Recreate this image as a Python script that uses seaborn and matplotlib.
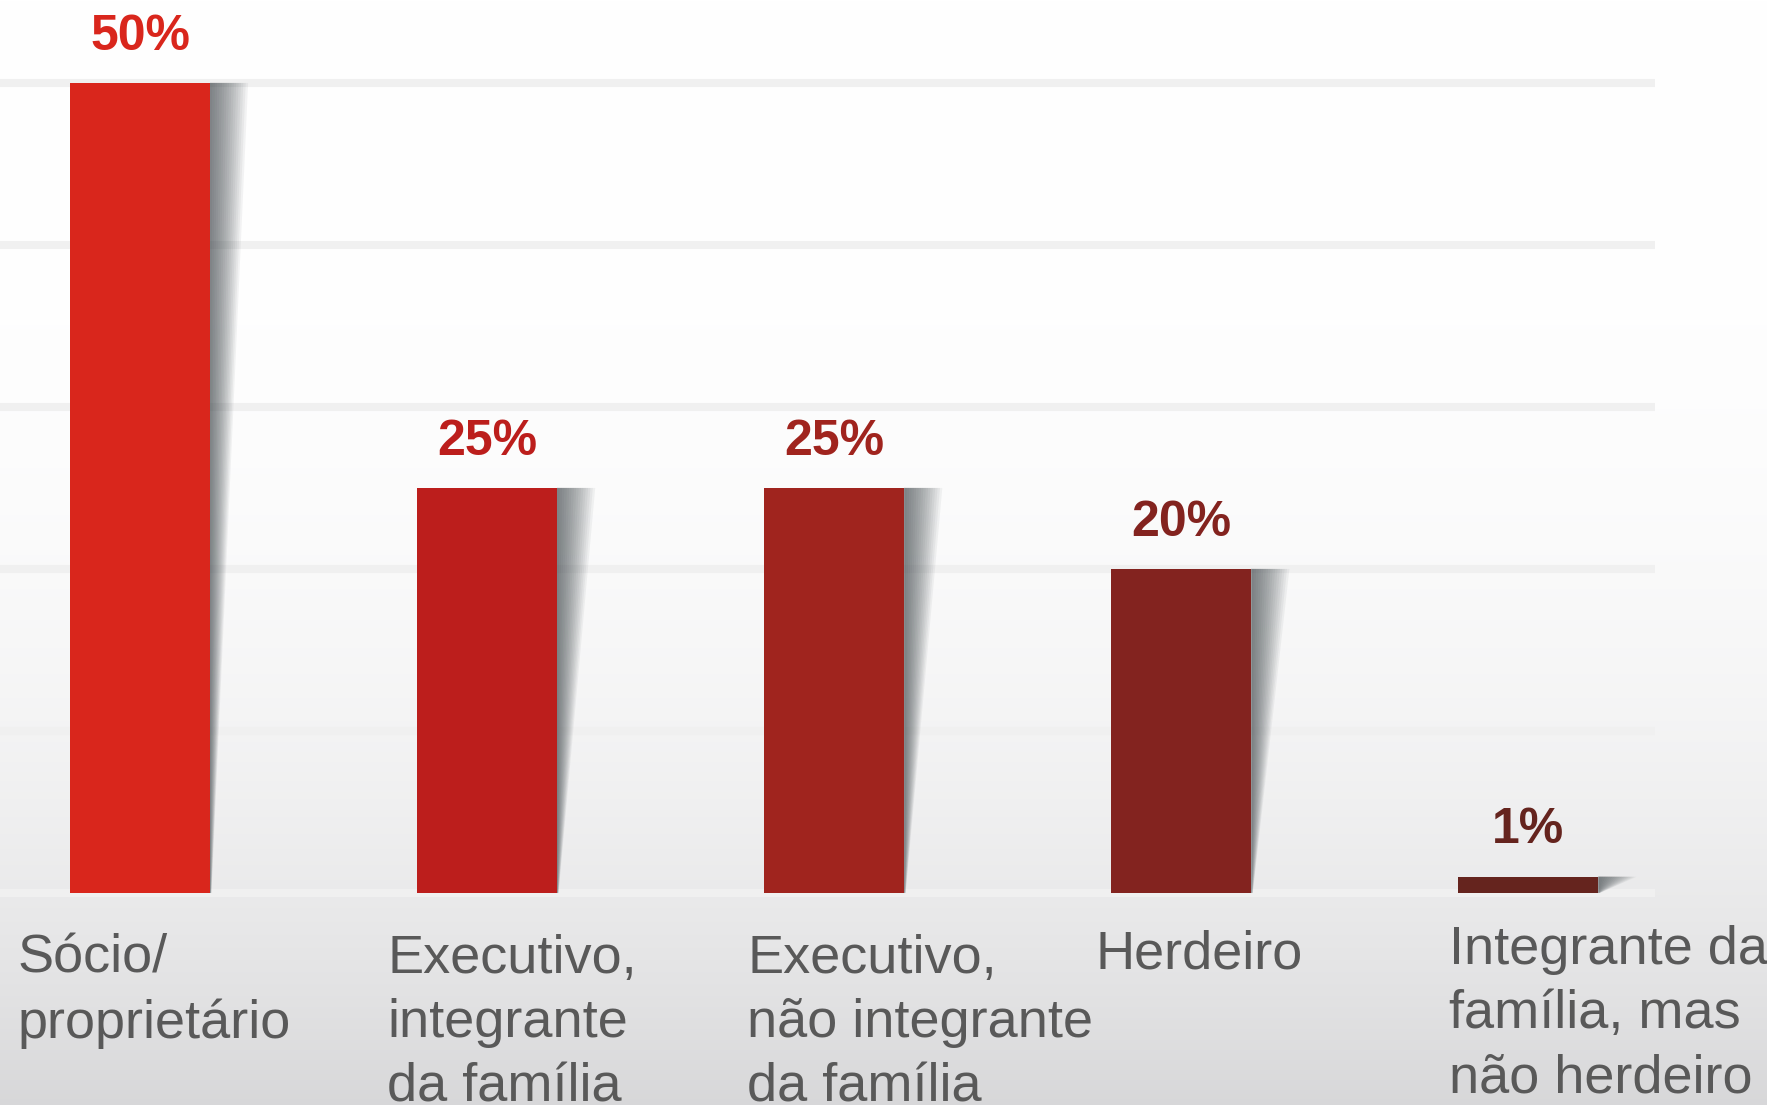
import numpy as np
import matplotlib
matplotlib.use("Agg")
import matplotlib.pyplot as plt
from matplotlib.patches import Polygon
import seaborn as sns

# --- data -------------------------------------------------------------
categories = [
    "Sócio/\nproprietário",
    "Executivo,\nintegrante\nda família",
    "Executivo,\nnão integrante\nda família",
    "Herdeiro",
    "Integrante da\nfamília, mas\nnão herdeiro",
]
values = [50, 25, 25, 20, 1]
value_labels = ["50%", "25%", "25%", "20%", "1%"]
bar_colors = ["#D9261C", "#BC1E1C", "#A0241E", "#83231F", "#65241E"]

# per-label pixel nudges for the category captions (x, y)
label_nudge_px = [(-53, 0), (-30, 0), (-17, 0), (-16, 4), (-9, 9)]

# --- style ------------------------------------------------------------
sns.set_theme(style="white")
plt.rcParams["font.family"] = ["Liberation Sans", "DejaVu Sans"]

W, H = 1767, 1105
fig = plt.figure(figsize=(W / 100, H / 100), dpi=100)

# soft vertical gradient behind everything
bg = fig.add_axes([0, 0, 1, 1], zorder=-10)
t = np.linspace(0, 1, 600)[:, None]
shade = 1.0 - 0.155 * t ** 3
rgb = np.dstack([shade, shade, shade + 0.006 * t ** 3])
bg.imshow(np.clip(rgb, 0, 1), aspect="auto", extent=[0, 1, 0, 1], origin="upper")
bg.set_axis_off()

ax = fig.add_axes([0, 0, 1655 / W, 1])
ax.patch.set_alpha(0)

bar_w = 0.403
sns.barplot(x=list(range(len(values))), y=values, hue=list(range(len(values))),
            palette=bar_colors, legend=False, width=bar_w, saturation=1,
            ax=ax, zorder=3, linewidth=0)

ax.set_xlim(-0.4033, 4.3647)
ax.set_ylim(-13.09, 55.12)

# horizontal guide lines
ax.set_yticks([0, 10, 20, 30, 40, 50])
ax.yaxis.grid(True, color="#f0f0f0", linewidth=5.8)
ax.xaxis.grid(False)
ax.set_axisbelow(True)
ax.tick_params(left=False, bottom=False, labelleft=False, labelbottom=False)
for s in ax.spines.values():
    s.set_visible(False)
ax.set_xlabel("")
ax.set_ylabel("")

# soft drop shadows to the right of each bar
bars = [p for p in ax.patches]
n_layers = 16
dx = 0.11
for p in bars:
    x0 = p.get_x() + p.get_width()
    h = p.get_height()
    for k in range(1, n_layers + 1):
        d = dx * k / n_layers
        poly = Polygon([(x0, h), (x0 + d, h), (x0 + d * 0.04, 0), (x0, 0)],
                       closed=True, facecolor="#3a4246", edgecolor="none",
                       alpha=0.06, zorder=2.5)
        ax.add_patch(poly)

# value labels above bars and category names below
for i, (p, lab, col) in enumerate(zip(bars, value_labels, bar_colors)):
    cx = p.get_x() + p.get_width() / 2
    ax.annotate(lab, xy=(cx, p.get_height()), xytext=(0, 24),
                textcoords="offset points", ha="center", va="baseline",
                fontsize=36, fontweight="bold", color=col, zorder=5)
    ax.annotate(categories[i], xy=(p.get_x(), -2.53),
                xytext=label_nudge_px[i], textcoords="offset pixels",
                ha="left", va="top", fontsize=39, color="#595959",
                linespacing=1.36, annotation_clip=False, zorder=5)

fig.savefig("out.png", dpi=100)
